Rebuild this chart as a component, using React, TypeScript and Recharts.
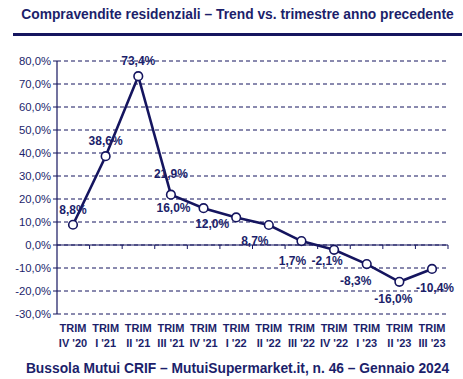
import { LineChart, Line, XAxis, YAxis, CartesianGrid, ReferenceLine } from "recharts";

const quarters = ["IV '20", "I '21", "II '21", "III '21", "IV '21", "I '22", "II '22", "III '22", "IV '22", "I '23", "II '23", "III '23"];
const trendValues = [8.8, 38.6, 73.4, 21.9, 16.0, 12.0, 8.7, 1.7, -2.1, -8.3, -16.0, -10.4];
const yTicks = [-30, -20, -10, 0, 10, 20, 30, 40, 50, 60, 70, 80];

// label placement relative to each point (dragged by hand in the original)
const LABEL_SHIFT: [number, number][] = [
  [0, -15], [0, -15], [0, -15], [0, -21], [-30, 0], [-24, 7],
  [-14, 16], [-9, 20], [-7, 11], [-11, 17], [-6, 17], [3, 19],
];

const data = quarters.map((q, i) => ({ q, v: trendValues[i] }));

const NAVY = "#15155f";
const TEXT = "#1c1f6b";
const FONT = "'Liberation Sans', Arial, sans-serif";

const pct = (v: number) => v.toFixed(1).replace(".", ",") + "%";

function PointLabel(props: any) {
  const { x, y, index, value } = props;
  const [dx, dy] = LABEL_SHIFT[index] ?? [0, -15];
  return (
    <text
      x={x + dx}
      y={y + dy}
      textAnchor="middle"
      dominantBaseline="central"
      fontFamily={FONT}
      fontSize={12}
      fontWeight={700}
      fill={TEXT}
    >
      {pct(Number(value))}
    </text>
  );
}

function QuarterTick(props: any) {
  const { x, y, payload } = props;
  return (
    <text x={x} y={y} textAnchor="middle" fontFamily={FONT} fontSize={11} fontWeight={700} fill={TEXT}>
      <tspan x={x} dy={10}>TRIM</tspan>
      <tspan x={x} dy={15}>{payload.value}</tspan>
    </text>
  );
}

function ZeroAxis(props: any) {
  const { x1 = 57, y1 = 245, x2 = 448 } = props;
  const step = (x2 - x1) / quarters.length;
  return (
    <g>
      <line x1={x1} y1={y1} x2={x2} y2={y1} stroke={NAVY} strokeWidth={1.2} />
      {quarters.map((_, i) => (
        <line key={i} x1={x1 + step * (i + 1)} y1={y1} x2={x1 + step * (i + 1)} y2={y1 + 4} stroke={NAVY} strokeWidth={1} />
      ))}
    </g>
  );
}

export default function App() {
  return (
    <div style={{ position: "absolute", left: 0, top: 0, width: 463, height: 379, background: "#fff", fontFamily: FONT }}>
      <div
        style={{
          position: "absolute",
          left: 0,
          top: 7,
          width: 475,
          textAlign: "center",
          fontSize: 13.8,
          fontWeight: 700,
          color: TEXT,
        }}
      >
        Compravendite residenziali – Trend vs. trimestre anno precedente
      </div>
      <div style={{ position: "absolute", left: 13, top: 33, width: 449, height: 3, background: NAVY }} />
      <div style={{ position: "absolute", left: 0, top: 0 }}>
        <LineChart width={463} height={379} data={data} margin={{ top: 61, right: 15, bottom: 30, left: 7 }}>
          <CartesianGrid vertical={false} stroke={NAVY} strokeDasharray="4 3" strokeWidth={1} />
          <XAxis
            dataKey="q"
            axisLine={false}
            tickLine={false}
            interval={0}
            height={35}
            padding={{ left: 16, right: 16 }}
            tick={<QuarterTick />}
          />
          <YAxis
            domain={[-30, 80]}
            ticks={yTicks}
            width={50}
            interval={0}
            axisLine={{ stroke: NAVY, strokeWidth: 1.2 }}
            tickLine={{ stroke: NAVY }}
            tickSize={4}
            tickFormatter={pct}
            tick={{ fontSize: 11.3, fill: TEXT, fontFamily: FONT }}
          />
          <ReferenceLine y={0} shape={<ZeroAxis />} />
          <Line
            dataKey="v"
            stroke={NAVY}
            strokeWidth={2.6}
            dot={{ r: 4.3, fill: "#fff", stroke: NAVY, strokeWidth: 1.6 }}
            isAnimationActive={false}
            label={<PointLabel />}
          />
        </LineChart>
      </div>
      <div
        style={{
          position: "absolute",
          left: 0,
          top: 361,
          width: 475,
          textAlign: "center",
          fontSize: 13.8,
          fontWeight: 700,
          color: TEXT,
        }}
      >
        Bussola Mutui CRIF – MutuiSupermarket.it, n. 46 – Gennaio 2024
      </div>
    </div>
  );
}
